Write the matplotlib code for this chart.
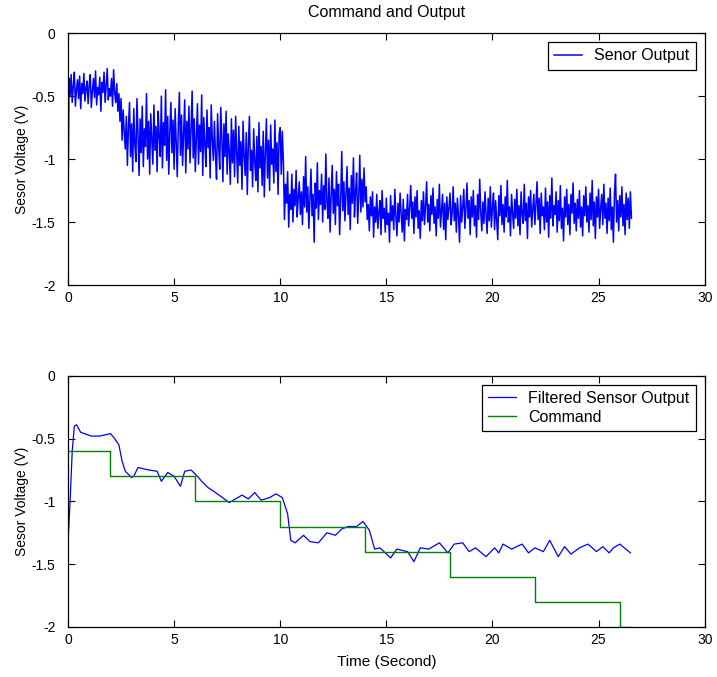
import numpy as np
import matplotlib
matplotlib.use("Agg")
import matplotlib.pyplot as plt

plt.rcParams['font.family'] = ['Liberation Sans', 'DejaVu Sans']
plt.rcParams['axes.unicode_minus'] = False

# raw sensor output, one sample every 0.05 s (one row per second)
raw_step = 0.05
raw_volts = [
    -1.45, -0.36, -0.50, -0.33, -0.55, -0.42, -0.31, -0.58, -0.45, -0.37, -0.52, -0.34, -0.60, -0.40, -0.48, -0.32, -0.54, -0.44, -0.38, -0.56,
    -0.41, -0.33, -0.59, -0.46, -0.36, -0.51, -0.30, -0.57, -0.43, -0.49, -0.35, -0.62, -0.39, -0.47, -0.31, -0.55, -0.42, -0.28, -0.53, -0.44,
    -0.50, -0.36, -0.58, -0.29, -0.47, -0.55, -0.40, -0.62, -0.48, -0.70, -0.52, -0.85, -0.61, -0.78, -0.92, -0.66, -1.05, -0.74, -0.55, -0.98,
    -0.72, -1.10, -0.60, -0.88, -1.02, -0.52, -0.80, -1.13, -0.68, -0.95, -0.58, -1.06, -0.76, -0.90, -0.48, -1.00, -0.70, -1.12, -0.64, -0.85,
    -1.04, -0.57, -0.93, -0.74, -1.10, -0.62, -0.82, -0.98, -0.50, -1.07, -0.71, -0.89, -0.45, -1.01, -0.66, -1.12, -0.78, -0.55, -0.95, -0.69,
    -1.08, -0.60, -0.86, -1.14, -0.72, -0.47, -0.97, -0.65, -1.05, -0.80, -0.53, -1.11, -0.70, -0.92, -0.58, -1.03, -0.76, -0.46, -0.99, -0.68,
    -1.10, -0.82, -0.56, -1.04, -0.73, -0.94, -0.49, -1.13, -0.67, -0.88, -1.06, -0.61, -0.91, -0.75, -1.15, -0.57, -0.84, -1.01, -0.70, -0.96,
    -1.16, -0.64, -0.90, -1.08, -0.59, -0.83, -1.18, -0.72, -0.98, -0.62, -1.12, -0.80, -0.93, -1.20, -0.68, -1.03, -0.77, -1.14, -0.66, -0.95,
    -1.19, -0.74, -1.05, -0.86, -1.24, -0.70, -0.97, -1.13, -0.79, -1.28, -0.88, -0.66, -1.09, -0.93, -1.22, -0.76, -1.02, -1.17, -0.82, -1.26,
    -0.71, -1.07, -0.90, -1.21, -0.78, -1.30, -0.95, -0.68, -1.15, -0.85, -1.25, -0.73, -1.04, -0.92, -1.19, -0.69, -1.10, -0.87, -1.28, -0.80,
    -0.75, -1.12, -0.78, -1.02, -1.48, -1.20, -1.35, -1.10, -1.54, -1.28, -1.40, -1.12, -1.50, -1.24, -1.37, -1.09, -1.46, -1.30, -1.18, -1.44,
    -1.26, -1.52, -1.14, -1.38, -0.98, -1.42, -1.22, -1.55, -1.31, -1.08, -1.45, -1.28, -1.66, -1.19, -1.39, -1.03, -1.48, -1.25, -1.36, -1.12,
    -1.50, -1.21, -1.40, -0.96, -1.33, -1.47, -1.15, -1.58, -1.29, -1.05, -1.43, -1.24, -1.52, -1.10, -1.37, -1.20, -1.60, -1.32, -0.94, -1.41,
    -1.18, -1.49, -1.27, -1.06, -1.44, -1.23, -1.56, -1.13, -1.35, -0.99, -1.46, -1.26, -1.11, -1.51, -1.30, -0.97, -1.42, -1.16, -1.38, -1.07,
    -1.34, -1.22, -1.48, -1.36, -1.57, -1.30, -1.45, -1.26, -1.62, -1.38, -1.50, -1.28, -1.55, -1.42, -1.33, -1.60, -1.25, -1.47, -1.39, -1.58,
    -1.31, -1.52, -1.43, -1.66, -1.29, -1.49, -1.37, -1.56, -1.24, -1.45, -1.61, -1.35, -1.50, -1.27, -1.44, -1.58, -1.32, -1.65, -1.40, -1.48,
    -1.28, -1.53, -1.39, -1.21, -1.47, -1.34, -1.59, -1.30, -1.46, -1.25, -1.55, -1.41, -1.63, -1.33, -1.49, -1.26, -1.52, -1.37, -1.18, -1.50,
    -1.36, -1.57, -1.29, -1.44, -1.23, -1.51, -1.38, -1.61, -1.32, -1.47, -1.20, -1.54, -1.41, -1.28, -1.56, -1.35, -1.64, -1.30, -1.48, -1.39,
    -1.27, -1.52, -1.43, -1.22, -1.49, -1.35, -1.58, -1.31, -1.45, -1.66, -1.29, -1.50, -1.38, -1.24, -1.55, -1.40, -1.19, -1.47, -1.33, -1.60,
    -1.30, -1.46, -1.25, -1.53, -1.37, -1.62, -1.28, -1.48, -1.16, -1.42, -1.57, -1.34, -1.51, -1.26, -1.44, -1.59, -1.31, -1.49, -1.22, -1.54,
    -1.39, -1.27, -1.56, -1.33, -1.48, -1.64, -1.29, -1.45, -1.21, -1.52, -1.36, -1.58, -1.30, -1.46, -1.17, -1.50, -1.38, -1.61, -1.28, -1.43,
    -1.55, -1.32, -1.47, -1.24, -1.53, -1.37, -1.60, -1.26, -1.44, -1.51, -1.20, -1.49, -1.35, -1.63, -1.30, -1.46, -1.25, -1.54, -1.40, -1.28,
    -1.52, -1.36, -1.18, -1.48, -1.31, -1.59, -1.27, -1.45, -1.38, -1.56, -1.23, -1.50, -1.34, -1.62, -1.29, -1.47, -1.15, -1.53, -1.37, -1.44,
    -1.26, -1.58, -1.33, -1.49, -1.21, -1.55, -1.39, -1.65, -1.30, -1.46, -1.24, -1.52, -1.36, -1.60, -1.28, -1.43, -1.19, -1.51, -1.35, -1.57,
    -1.32, -1.47, -1.25, -1.54, -1.38, -1.61, -1.29, -1.45, -1.22, -1.50, -1.37, -1.58, -1.27, -1.48, -1.17, -1.53, -1.34, -1.63, -1.30, -1.46,
    -1.24, -1.55, -1.39, -1.28, -1.52, -1.20, -1.47, -1.35, -1.59, -1.31, -1.49, -1.23, -1.56, -1.38, -1.66, -1.27, -1.12, -1.50, -1.33, -1.57,
    -1.29, -1.46, -1.22, -1.53, -1.36, -1.60, -1.27, -1.48, -1.31, -1.55, -1.26, -1.47,
]
raw_time = np.arange(len(raw_volts)) * raw_step

# filtered output
filt_time = [0.0, 0.1, 0.2, 0.3, 0.4, 0.6, 1.1, 1.5, 2.0, 2.2, 2.4, 2.55, 2.7, 3.0,
             3.1, 3.3, 3.8, 4.2, 4.4, 4.7, 5.0, 5.3, 5.5, 5.8, 6.1, 6.3, 6.6, 6.95,
             7.2, 7.6, 7.9, 8.2, 8.5, 8.8, 9.1, 9.5, 9.8, 10.1, 10.35, 10.5, 10.7,
             11.1, 11.4, 11.8, 12.2, 12.6, 12.9, 13.2, 13.6, 13.9, 14.2, 14.45,
             14.7, 15.2, 15.5, 16.0, 16.3, 16.6, 17.0, 17.5, 17.9, 18.2, 18.6,
             18.9, 19.2, 19.7, 20.1, 20.3, 20.5, 20.9, 21.4, 21.7, 22.0, 22.4,
             22.7, 23.1, 23.4, 23.7, 24.1, 24.5, 24.9, 25.2, 25.5, 25.7, 26.0, 26.5]
filt_volts = [-1.33, -1.0, -0.6, -0.40, -0.39, -0.45, -0.48, -0.48, -0.46, -0.50,
              -0.55, -0.68, -0.76, -0.81, -0.80, -0.73, -0.75, -0.76, -0.84, -0.77,
              -0.80, -0.88, -0.76, -0.75, -0.80, -0.84, -0.89, -0.93, -0.96, -1.01,
              -0.98, -0.95, -0.98, -0.93, -0.99, -0.97, -0.94, -0.97, -1.10, -1.31,
              -1.33, -1.27, -1.32, -1.33, -1.25, -1.27, -1.22, -1.20, -1.20, -1.16,
              -1.23, -1.38, -1.37, -1.45, -1.38, -1.40, -1.48, -1.37, -1.38, -1.33,
              -1.41, -1.34, -1.33, -1.40, -1.37, -1.44, -1.37, -1.41, -1.34, -1.38,
              -1.34, -1.41, -1.37, -1.40, -1.31, -1.44, -1.36, -1.42, -1.37, -1.34,
              -1.40, -1.36, -1.41, -1.37, -1.34, -1.41]

# command steps
cmd_time = [0, 2, 6, 10, 14, 18, 22, 26, 26.55]
cmd_volts = [-0.6, -0.8, -1.0, -1.2, -1.4, -1.6, -1.8, -2.0, -2.0]

yticks = [0, -0.5, -1, -1.5, -2]
ytick_labels = ['0', '-0.5', '-1', '-1.5', '-2']
xticks = [0, 5, 10, 15, 20, 25, 30]

fig = plt.figure(figsize=(7.17, 6.77), dpi=100)
ax1 = fig.add_axes([0.0948, 0.579, 0.888, 0.372])
ax2 = fig.add_axes([0.0948, 0.0739, 0.888, 0.371])

ax1.plot(raw_time, raw_volts, color='#0000ff', lw=1.1, label='Senor Output')
ax2.plot(filt_time, filt_volts, color='#0000ff', lw=0.9, label='Filtered Sensor Output')
ax2.plot(cmd_time, cmd_volts, color='#008000', lw=1.0, drawstyle='steps-post', label='Command')

for ax in (ax1, ax2):
    ax.set_xlim(0, 30)
    ax.set_ylim(-2, 0)
    ax.set_xticks(xticks)
    ax.set_yticks(yticks)
    ax.set_yticklabels(ytick_labels)
    ax.tick_params(direction='in', top=True, right=True, length=5, width=0.8,
                   labelsize=10)
    ax.tick_params(axis='x', pad=4)
    ax.tick_params(axis='y', pad=9)
    ax.set_ylabel('Sesor Voltage (V)', fontsize=10, labelpad=2)
    for s in ax.spines.values():
        s.set_linewidth(0.9)
    leg = ax.legend(loc='upper right', fancybox=False, edgecolor='black', framealpha=1,
                    fontsize=11.5, handlelength=1.75, handletextpad=0.75,
                    borderaxespad=0.55, borderpad=0.4, labelspacing=0.25)
    leg.get_frame().set_linewidth(0.9)

ax1.set_title('Command and Output', fontsize=11.5, pad=12)
ax2.set_xlabel('Time (Second)', fontsize=11, labelpad=6)

fig.savefig('out.png', dpi=100)
